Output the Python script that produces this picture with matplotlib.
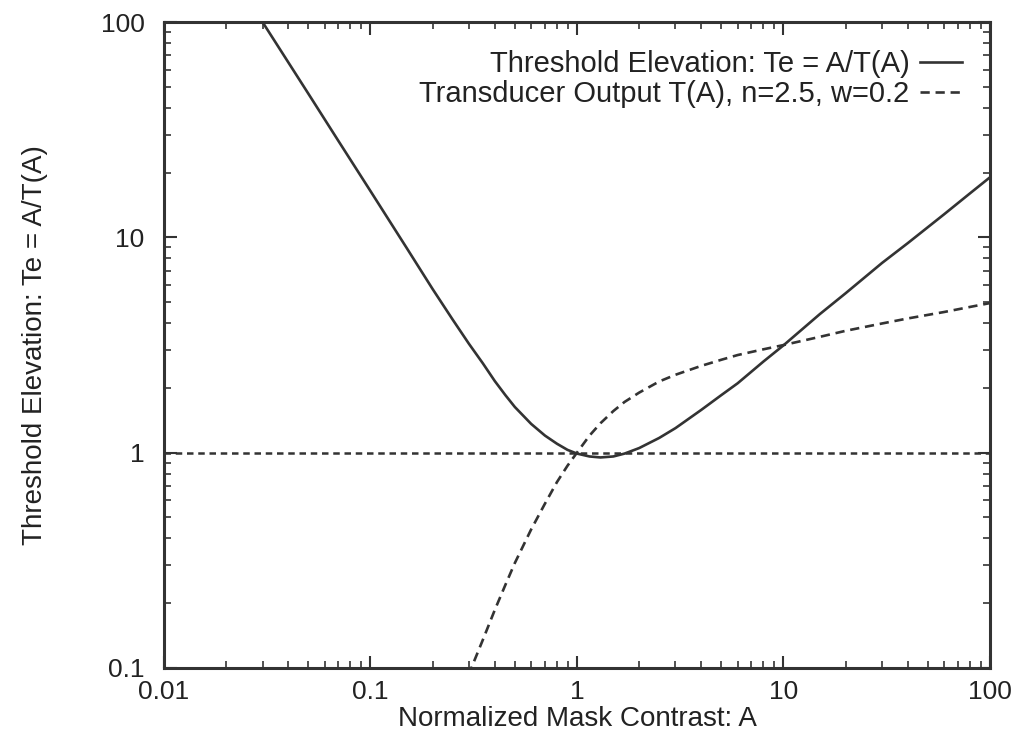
import numpy as np
import matplotlib
matplotlib.use("Agg")
import matplotlib.pyplot as plt
from matplotlib.ticker import LogLocator, NullFormatter, FixedLocator, FixedFormatter

plt.rcParams['font.family'] = ['Liberation Sans', 'DejaVu Sans']

# mask contrast values
A = [0.01, 0.02, 0.03, 0.05, 0.07, 0.1, 0.15, 0.2, 0.25, 0.3, 0.35, 0.4,
     0.45, 0.5, 0.6, 0.7, 0.8, 0.9, 1.0, 1.15, 1.3, 1.5, 1.7, 2.0, 2.5,
     3.0, 4.0, 5.0, 6.0, 8.0, 10.0, 15.0, 20.0, 30.0, 40.0, 60.0, 80.0, 100.0]
# threshold elevation Te = A/T(A)
Te = [520, 185, 100, 46.5, 28, 16.4, 8.9, 5.75, 4.15, 3.2, 2.6, 2.15,
      1.85, 1.63, 1.36, 1.2, 1.1, 1.03, 0.99, 0.96, 0.95, 0.96, 0.99, 1.05, 1.17,
      1.3, 1.58, 1.85, 2.1, 2.65, 3.15, 4.4, 5.5, 7.6, 9.4, 12.8, 16.0, 19.0]
# transducer output T(A)
T = [1.9e-5, 1.08e-4, 3.0e-4, 1.08e-3, 2.5e-3, 6.1e-3, 0.0168, 0.035, 0.062, 0.094, 0.135, 0.186,
     0.243, 0.307, 0.44, 0.58, 0.73, 0.87, 1.0, 1.2, 1.37, 1.56, 1.72, 1.9, 2.14,
     2.3, 2.53, 2.7, 2.84, 3.02, 3.16, 3.45, 3.68, 3.98, 4.2, 4.5, 4.75, 4.95]

col = '#333333'
tcol = '#222222'

fig = plt.figure(figsize=(10.23, 7.44), dpi=100)
ax = fig.add_axes([0.1603, 0.1022, 0.8074, 0.8682])

ax.plot(A, Te, color=col, lw=1.9, label='Threshold Elevation: Te = A/T(A)')
ax.plot(A, T, color=col, lw=1.9, dashes=(3.5, 2.2),
        label='Transducer Output T(A), n=2.5, w=0.2')
ax.axhline(1, color=col, lw=1.8, dashes=(2.6, 1.9))

ax.set_xscale('log')
ax.set_yscale('log')
ax.set_xlim(0.01, 100)
ax.set_ylim(0.1, 100)

xt = [0.01, 0.1, 1, 10, 100]
yt = [0.1, 1, 10, 100]
ax.xaxis.set_major_locator(FixedLocator(xt))
ax.xaxis.set_major_formatter(FixedFormatter(['0.01', '0.1', '1', '10', '100']))
ax.yaxis.set_major_locator(FixedLocator(yt))
ax.yaxis.set_major_formatter(FixedFormatter(['0.1', '1', '10', '100']))
for axis in (ax.xaxis, ax.yaxis):
    axis.set_minor_locator(LogLocator(base=10, subs=np.arange(2, 10)))
    axis.set_minor_formatter(NullFormatter())

ax.tick_params(which='both', direction='in', top=True, right=True,
               color=col, labelsize=19, labelcolor=tcol)
ax.tick_params(axis='y', pad=14)
ax.tick_params(axis='x', pad=9)
ax.tick_params(which='major', length=9, width=1.5)
ax.tick_params(which='minor', length=5, width=1.2)
for s in ax.spines.values():
    s.set_linewidth(2.2)
    s.set_color(col)

ax.set_xlabel('Normalized Mask Contrast: A', fontsize=20, color=tcol, labelpad=1)
ax.set_ylabel('Threshold Elevation: Te = A/T(A)', fontsize=20, color=tcol, labelpad=38)

leg = ax.legend(loc='upper right', frameon=False, markerfirst=False,
                fontsize=21, handlelength=1.45, handletextpad=0.35,
                borderaxespad=0.55, labelspacing=0.08)
for t in leg.get_texts():
    t.set_color(tcol)

fig.savefig('out.png', dpi=100, facecolor='white')
